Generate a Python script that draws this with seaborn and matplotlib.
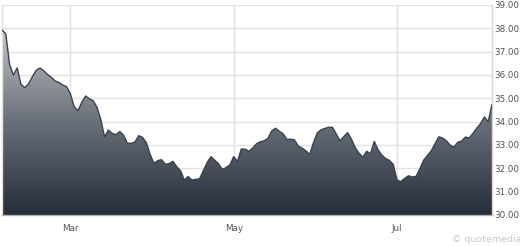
import numpy as np
import pandas as pd
import matplotlib
matplotlib.use("Agg")
import matplotlib.pyplot as plt
import seaborn as sns
from matplotlib.colors import LinearSegmentedColormap

# ---- data ----
dates = pd.bdate_range("2019-02-05", "2019-08-05")
prices = [
    37.93, 37.76, 36.45, 36.00, 36.30, 35.60, 35.46, 35.62, 35.93, 36.20,
    36.30, 36.18, 36.02, 35.90, 35.74, 35.68, 35.57, 35.50, 35.20, 34.64,
    34.47, 34.83, 35.10, 34.98, 34.90, 34.62, 34.10, 33.35, 33.64, 33.50,
    33.44, 33.58, 33.42, 33.08, 33.07, 33.13, 33.40, 33.33, 33.10, 32.60,
    32.22, 32.33, 32.37, 32.18, 32.20, 32.30, 32.07, 31.90, 31.50, 31.65,
    31.50, 31.53, 31.55, 31.90, 32.25, 32.50, 32.35, 32.20, 31.95, 32.03,
    32.15, 32.50, 32.30, 32.83, 32.82, 32.73, 32.87, 33.05, 33.14, 33.18,
    33.28, 33.60, 33.72, 33.59, 33.48, 33.24, 33.25, 33.22, 32.95, 32.87,
    32.75, 32.60, 33.10, 33.52, 33.65, 33.71, 33.76, 33.76, 33.47, 33.18,
    33.36, 33.53, 33.25, 32.88, 32.65, 32.48, 32.73, 32.62, 33.15, 32.80,
    32.57, 32.42, 32.34, 32.17, 31.50, 31.43, 31.57, 31.68, 31.63, 31.65,
    31.98, 32.35, 32.55, 32.75, 33.05, 33.35, 33.30, 33.18, 32.99, 32.91,
    33.12, 33.17, 33.34, 33.30, 33.50, 33.72, 33.92, 34.20, 34.00, 34.74,
]
y_ticks = [30, 31, 32, 33, 34, 35, 36, 37, 38, 39]
month_labels = {"2019-03": "Mar", "2019-05": "May", "2019-07": "Jul"}

df = pd.DataFrame({"idx": np.arange(len(prices)), "price": prices, "date": dates[:len(prices)]})

sns.set_style("white")
plt.rcParams["font.family"] = ["DejaVu Sans"]

fig = plt.figure(figsize=(5.2, 2.46), dpi=100)
ax = fig.add_axes([2 / 520, 1 - 215 / 246, 490 / 520, 210 / 246])

xmin, xmax = 0, len(prices) - 1
ymin, ymax = y_ticks[0], y_ticks[-1]
ax.set_xlim(xmin, xmax)
ax.set_ylim(ymin, ymax)

# gradient fill clipped to area under the line
poly = ax.fill_between(df["idx"], df["price"], ymin, color="none", lw=0)
cmap = LinearSegmentedColormap.from_list("g", ["#252d3a", "#6a7079", "#c2c4c6"])
grad = np.linspace(0, 1, 256).reshape(-1, 1)
img = ax.imshow(grad, cmap=cmap, aspect="auto", origin="lower",
                extent=[xmin, xmax, ymin, 38.0], zorder=2)
clip = poly.get_paths()[0]
img.set_clip_path(clip, transform=ax.transData)

sns.lineplot(data=df, x="idx", y="price", ax=ax, color="#3b4350", lw=1.0, zorder=3)

# month ticks
first_idx = df.groupby(df["date"].dt.to_period("M"))["idx"].min()
major_pos, major_lab, minor_pos = [], [], []
for per, i in first_idx.items():
    key = str(per)
    if key in month_labels:
        major_pos.append(i)
        major_lab.append(month_labels[key])
    else:
        minor_pos.append(i)
ax.set_xticks(major_pos)
ax.set_xticklabels(major_lab)
ax.set_xticks(minor_pos, minor=True)

ax.yaxis.tick_right()
ax.set_yticks(y_ticks)
ax.set_yticklabels([f"{v:.2f}" for v in y_ticks])

ax.grid(True, which="major", color="#e2e2e2", lw=1.0, zorder=0)
ax.set_axisbelow(True)
ax.tick_params(axis="both", which="both", labelsize=6.3, colors="#555555",
               length=2.5, width=0.8, pad=2)
ax.tick_params(axis="x", which="both", color="#888888")
ax.tick_params(axis="x", which="major", length=2.5, pad=4)
ax.tick_params(axis="y", length=0, pad=2)
ax.set_xlabel("")
ax.set_ylabel("")

ax.spines["top"].set_visible(False)
ax.spines["left"].set_color("#e2e2e2")
ax.spines["bottom"].set_color("#b0b0b0")
ax.spines["right"].set_color("#d6d6d6")
for s in ["left", "bottom", "right"]:
    ax.spines[s].set_linewidth(1.0)

fig.text(452 / 520, 1 - 240 / 246, "\u00a9 quotemedia", fontsize=6.8, color="#c8c8c8",
         va="center", ha="left")

fig.savefig("out.png", dpi=100)
